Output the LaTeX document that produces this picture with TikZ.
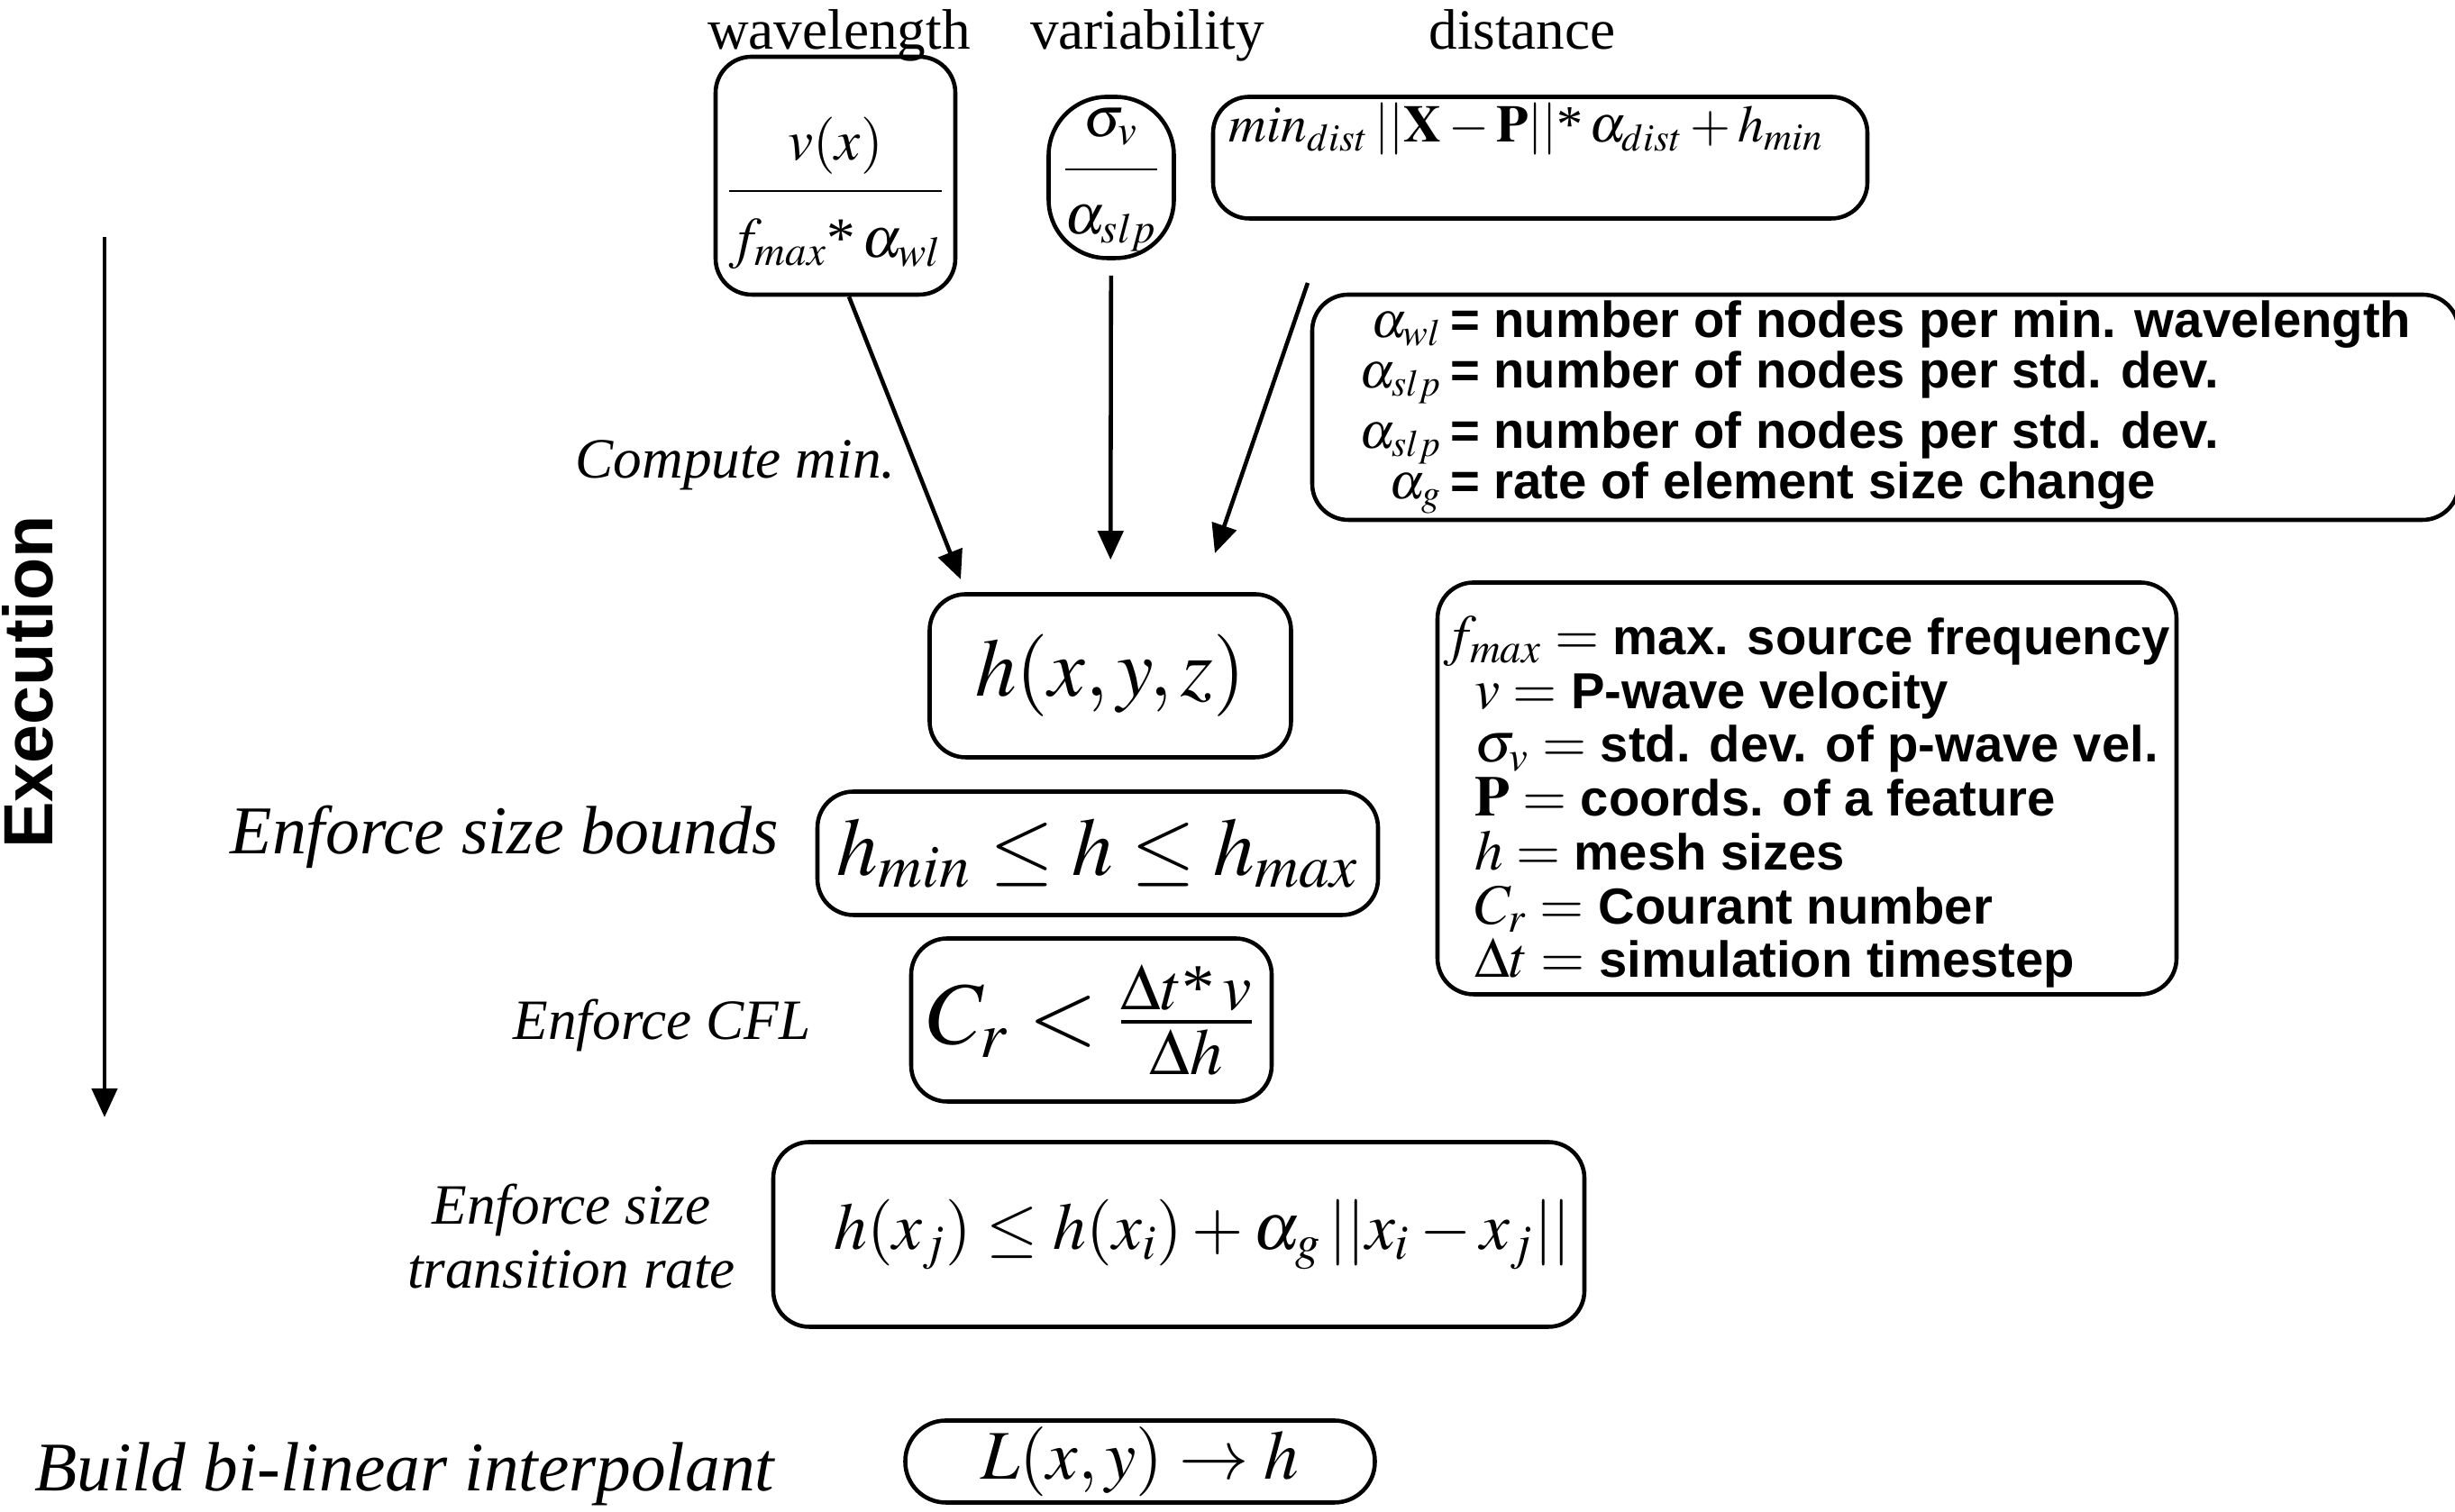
\documentclass[tikz,border=0pt]{standalone}
\usepackage{amsmath}
\usepackage{mathptmx}
\usepackage[no-math]{fontspec}
\setmainfont{Liberation Serif}
\setsansfont{Liberation Sans}
\usetikzlibrary{arrows.meta}

\newcommand{\lsym}[1]{{\fontsize{18}{17}\selectfont$#1=$}}

\tikzset{
  box/.style={draw, line width=1.3pt, rounded corners=4mm, inner sep=0pt},
  arr/.style={-{Triangle[length=3.2mm,width=2.8mm]}, line width=1.3pt},
  toplbl/.style={font=\fontsize{18}{20}\selectfont, anchor=base, inner sep=0pt},
  steplbl/.style={font=\fontsize{18}{20}\selectfont\itshape, inner sep=0pt},
  legend/.style={box, font=\fontsize{16}{17}\selectfont\sffamily\bfseries}
}

\begin{document}
\begin{tikzpicture}
\useasboundingbox (0,0) rectangle (27.24,16.78);

% Kriterien
\node[toplbl] (wlT) at (9.31,16.23) {wavelength};
\node[toplbl] (varT) at (12.73,16.23) {variability};
\node[toplbl] (distT) at (16.89,16.23) {distance};

\node[box, minimum width=2.66cm, text height=1.65cm, text depth=0.99cm, font=\fontsize{18}{20}\selectfont] (wl) at (9.27,14.83)
  {$\displaystyle\frac{\raisebox{0.08cm}{$v(x)$}}{\raisebox{-0.14cm}{$f_{max}\text{*}\,\alpha_{wl}$}}$};
\node[box, rounded corners=6.5mm, minimum width=1.39cm, text height=0.965cm, text depth=0.825cm, font=\fontsize{18}{20}\selectfont] (var) at (12.33,14.81)
  {$\displaystyle\frac{\raisebox{0.1cm}{$\sigma_v$}}{\raisebox{-0.12cm}{$\alpha_{slp}$}}$};
\node[box, minimum width=7.26cm, text height=0.5cm, text depth=0.85cm, font=\fontsize{16.5}{20}\selectfont] (dist) at (17.09,15.03)
  {$min_{dist}\,||\mathbf{X}-\mathbf{P}||\text{*}\,\alpha_{dist}+h_{min}$\hspace*{0.3cm}};

% Legende
\node[legend, minimum width=12.72cm, minimum height=2.5cm] (alpha) at (20.92,12.26) {%
  \begin{tabular}{@{}r@{\,}l@{}}
  $\alpha_{wl}$ & = number of nodes per min. wavelength\\[-1pt]
  $\alpha_{slp}$ & = number of nodes per std. dev.\\[2pt]
  $\alpha_{slp}$ & = number of nodes per std. dev.\\[-1pt]
  $\alpha_{g}$ & = rate of element size change
  \end{tabular}};

\node[legend, minimum width=8.2cm, minimum height=4.57cm, align=left] (sym) at (20.05,8.03) {%
  \rule{0pt}{0.73cm}\lsym{f_{max}} max. source frequency\\
  \hspace*{0.34cm}\lsym{v} P-wave velocity\\
  \hspace*{0.34cm}\lsym{\sigma_v} std. dev. of p-wave vel.\\
  \hspace*{0.34cm}\lsym{\mathbf{P}} coords. of a feature\\
  \hspace*{0.34cm}\lsym{h} mesh sizes\\
  \hspace*{0.34cm}\lsym{C_r} Courant number\\
  \hspace*{0.34cm}\lsym{\Delta t} simulation timestep};

% Ablauf
\node[box, minimum width=4.01cm, minimum height=1.81cm, font=\fontsize{26}{30}\selectfont] (h) at (12.32,9.28) {$h(x,y,z)$};
\node[box, minimum width=6.22cm, minimum height=1.37cm, font=\fontsize{26}{30}\selectfont] (bounds) at (12.18,7.31) {$h_{min}\leq h\leq h_{max}$};
\node[box, minimum width=4.0cm, minimum height=1.81cm, font=\fontsize{28}{30}\selectfont] (cfl) at (12.11,5.46)
  {$C_r<\frac{\Delta t\text{*}\,v}{\Delta h}$};
\node[box, minimum width=9.0cm, minimum height=2.05cm, font=\fontsize{21}{26}\selectfont] (trans) at (13.08,3.08)
  {\hspace*{0.52cm}$h(x_j)\leq h(x_i)+\alpha_g\,||x_i-x_j||$};
\node[box, rounded corners=4.5mm, minimum width=5.21cm, minimum height=0.91cm, font=\fontsize{22}{26}\selectfont] (interp) at (12.65,0.56)
  {$L(x,y)\rightarrow h$};

\node[steplbl] (minL) at (8.16,11.62) {Compute min.};
\node[steplbl, font=\fontsize{21.6}{24}\selectfont\itshape, anchor=east] (boundsL) at (8.65,7.49) {Enforce size bounds};
\node[steplbl, anchor=east] (cflL) at (9.00,5.40) {Enforce CFL};
\node[steplbl, align=center] (transL) at (6.34,3.06) {Enforce size\\transition rate};
\node[steplbl, font=\fontsize{22}{24}\selectfont\itshape, anchor=west] (interpL) at (0.38,0.42) {Build bi-linear interpolant};

% Pfeile
\coordinate (t1) at (10.66,10.35);
\coordinate (s3) at (14.51,13.64);
\coordinate (t3) at (13.48,10.64);
\draw[arr] ([xshift=1.5mm]wl.south) -- (t1);
\draw[arr, shorten <=1.7mm, shorten >=3.6mm] (var) -- (h);
\draw[arr] (s3) -- (t3);

% Execution
\coordinate (exTop) at (1.16,14.15);
\coordinate (exBot) at (1.16,4.38);
\draw[arr] (exTop) -- (exBot);
\node[rotate=90, font=\fontsize{22}{24}\selectfont\sffamily\bfseries] (ex) at (0.31,9.21) {Execution};
\end{tikzpicture}
\end{document}
